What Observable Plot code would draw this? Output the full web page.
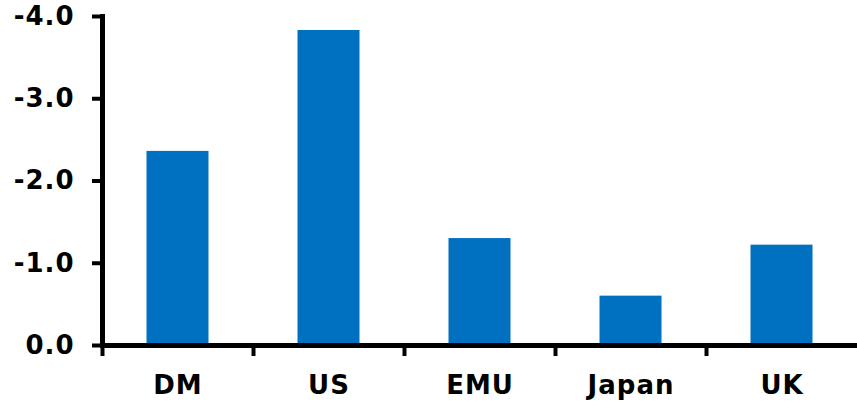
<!DOCTYPE html>
<html>
<head>
<meta charset="utf-8">
<script src="https://cdn.jsdelivr.net/npm/d3@7"></script>
<script src="https://cdn.jsdelivr.net/npm/@observablehq/plot@0.6"></script>
<style>
  html, body { margin: 0; padding: 0; background: #fff; }
  #chart svg { display: block; }
</style>
</head>
<body>
<div id="chart"></div>
<script>
// Change by region (percentage points); negative values plot upwards
const regions = ["DM", "US", "EMU", "Japan", "UK"];
const change = [-2.36, -3.83, -1.30, -0.60, -1.22];
const yTicks = [0, -1, -2, -3, -4];

const rows = regions.map((r, i) => ({region: r, value: change[i]}));

const width = 857, height = 405;
const marginLeft = 102, marginRight = 0, marginTop = 16, marginBottom = 60;
const band = (width - marginLeft - marginRight) / regions.length;
const barWidth = 62;
const font = "DejaVu Sans, sans-serif";

const chart = Plot.plot({
  width, height, marginLeft, marginRight, marginTop, marginBottom,
  style: {fontFamily: font, fontWeight: "bold", fontSize: "26px", color: "#000", background: "#fff"},
  x: {domain: regions, padding: 0, label: null},
  y: {domain: [0, -4], label: null},
  marks: [
    Plot.barY(rows, {
      x: "region", y: "value", fill: "#0070C0",
      insetLeft: (band - barWidth) / 2, insetRight: (band - barWidth) / 2
    }),
    // category boundary ticks under the baseline
    Plot.axisX({anchor: "bottom", tickSize: 11, strokeWidth: 4, dx: -band / 2, text: null, label: null}),
    // category labels
    Plot.axisX({anchor: "bottom", tickSize: 0, tickPadding: 30, label: null,
      fontSize: 26, fontWeight: "bold", fill: "#000"}),
    Plot.axisY({anchor: "left", ticks: yTicks, tickSize: 10, strokeWidth: 4, tickPadding: 18,
      tickFormat: d => d.toFixed(1), label: null, fontSize: 26, fontWeight: "bold", fill: "#000"}),
    Plot.frame({anchor: "left", strokeWidth: 5}),
    Plot.ruleY([0], {strokeWidth: 5})
  ]
});

chart.querySelectorAll("text").forEach(t => t.setAttribute("letter-spacing", "1px"));
document.getElementById("chart").append(chart);
</script>
</body>
</html>
